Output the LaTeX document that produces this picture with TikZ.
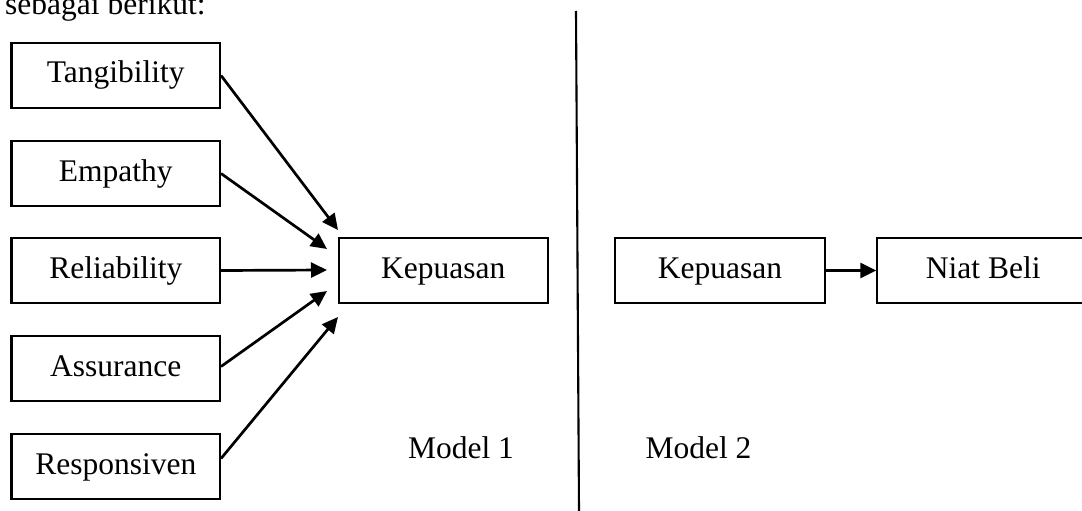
\documentclass[tikz,border=0pt]{standalone}
\usepackage{fontspec}
\setmainfont{Liberation Serif}
\usetikzlibrary{arrows.meta,calc}
\begin{document}
\begin{tikzpicture}[x=1pt,y=-1pt,
  txt/.style={font=\fontsize{31.5}{36}\selectfont},
  box/.style={txt, draw, line width=2.1pt, minimum width=208.5pt,
    minimum height=64.5pt, inner sep=0pt, text height=22pt, text depth=7pt},
  lbl/.style={txt, inner sep=0pt, anchor=base},
  link/.style={line width=2.7pt, -{Triangle[length=16pt,width=15pt]}}]
\useasboundingbox (0,0) rectangle (1082,511);

% lead-in line of text
\node[lbl, anchor=base west] (intro) at (5,15) {sebagai berikut:};

% Model 1: five service-quality dimensions
\node[box] (tang) at (115.75,75.5)  {Tangibility};
\node[box] (emp)  at (115.75,173.5) {Empathy};
\node[box] (rel)  at (115.75,270.5) {Reliability};
\node[box] (ass)  at (115.75,368.5) {Assurance};
\node[box] (resp) at (115.75,466.5) {Responsiven};
\node[box] (kep1) at (443.3,270.5)  {Kepuasan};

\coordinate (t1) at (338,230);
\coordinate (t2) at (327,249);
\coordinate (t3) at (327,270);
\coordinate (t4) at (327,291);
\coordinate (t5) at (338,317);

\draw[link] (tang.east) -- (t1);
\draw[link] (emp.east) -- (t2);
\draw[link] (rel.east) -- (t3);
\draw[link] ($(ass.east)+(0,-2)$) -- (t4);
\draw[link] ($(resp.east)+(0,-8)$) -- (t5);

\node[lbl] (m1) at (461,458) {Model 1};

% separator between the two models
\coordinate (d1) at (576,11);
\coordinate (d2) at (579,511);
\draw[line width=2.1pt] (d1) -- (d2);

% Model 2
\node[box, minimum width=210pt] (kep2) at (720,270.5) {Kepuasan};
\node[box, minimum width=211.7pt] (niat) at (983.2,270.5) {Niat Beli};
\draw[link] (kep2.east) -- (niat.west);

\node[lbl] (m2) at (698.5,458) {Model 2};
\end{tikzpicture}
\end{document}
